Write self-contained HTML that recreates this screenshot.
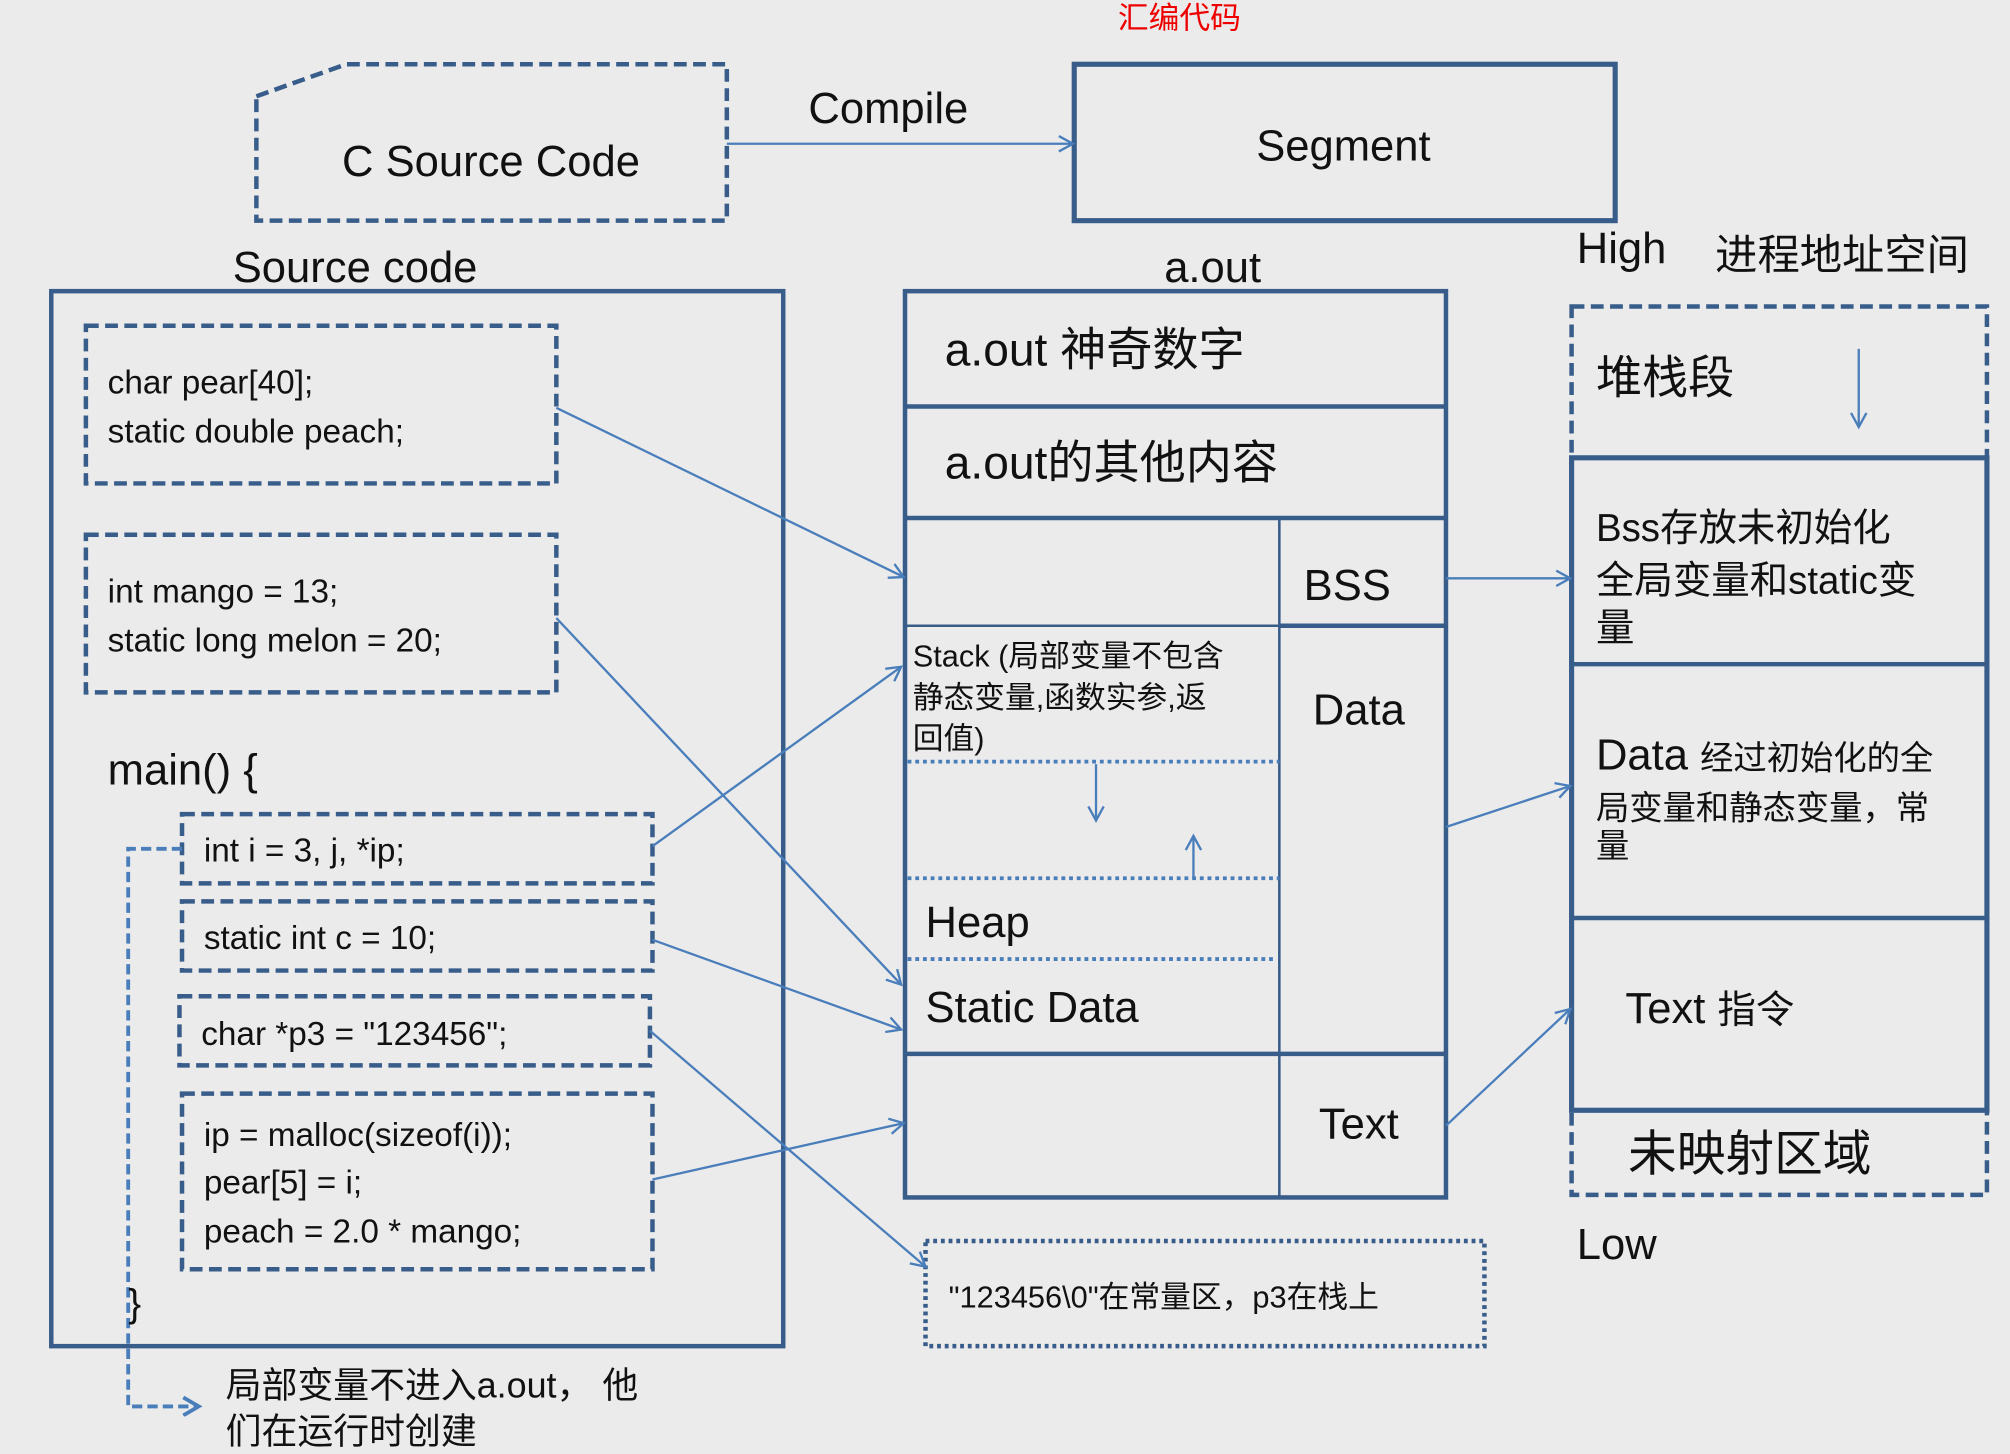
<!DOCTYPE html>
<html><head><meta charset="utf-8"><style>
html,body{margin:0;padding:0;background:#ebebeb;}
svg{display:block;}
text{font-family:"Liberation Sans","Noto Sans CJK SC",sans-serif;fill:#111;}
</style></head><body>
<svg width="2010" height="1454" viewBox="0 0 1568 1134" xmlns="http://www.w3.org/2000/svg">
<defs>
<marker id="a" markerWidth="14" markerHeight="14" refX="12" refY="7" orient="auto" markerUnits="userSpaceOnUse">
<polyline points="1,1 12,7 1,13" fill="none" stroke="#4a7ebb" stroke-width="1.8"/>
</marker>
<marker id="b" markerWidth="16" markerHeight="16" refX="13" refY="8" orient="auto" markerUnits="userSpaceOnUse">
<polyline points="1,1 13,8 1,15" fill="none" stroke="#4a7ebb" stroke-width="3"/>
</marker>
</defs>
<rect width="1568" height="1134" fill="#ebebeb"/>
<g stroke="#385d8a" fill="none">
<polygon points="200,75 270,50 567,50 567,172 200,172" stroke-width="3.5" stroke-dasharray="10,5"/>
<rect x="838" y="50" width="422" height="122" stroke-width="4"/>
<rect x="40" y="227" width="571" height="823" stroke-width="3.5"/>
<g stroke-width="3.5" stroke-dasharray="10,5">
<rect x="67" y="254" width="367" height="123"/>
<rect x="67" y="417" width="367" height="123"/>
<rect x="142" y="635" width="367" height="54"/>
<rect x="142" y="703" width="367" height="54"/>
<rect x="140" y="777" width="367" height="54"/>
<rect x="142" y="853" width="367" height="137"/>
</g>
<rect x="706" y="227" width="422" height="707" stroke-width="3.5"/>
<line x1="706" y1="317" x2="1128" y2="317" stroke-width="3.5"/>
<line x1="706" y1="404" x2="1128" y2="404" stroke-width="3.5"/>
<line x1="706" y1="488" x2="1128" y2="488" stroke-width="2"/>
<line x1="998" y1="488" x2="1128" y2="488" stroke-width="3.5"/>
<line x1="706" y1="822" x2="1128" y2="822" stroke-width="3.5"/>
<line x1="998" y1="404" x2="998" y2="934" stroke-width="2"/>
<g stroke="#4a7ebb" stroke-width="3" stroke-dasharray="3,3">
<line x1="708" y1="594" x2="998" y2="594"/>
<line x1="708" y1="685" x2="998" y2="685"/>
<line x1="708" y1="748" x2="993" y2="748"/>
</g>
<rect x="1226" y="239" width="324" height="693" stroke-width="3.5" stroke-dasharray="10,5"/>
<rect x="1226" y="357" width="324" height="509" stroke-width="4"/>
<line x1="1226" y1="518" x2="1550" y2="518" stroke-width="3.5"/>
<line x1="1226" y1="716" x2="1550" y2="716" stroke-width="3.5"/>
<rect x="722" y="968" width="436" height="82" stroke-width="3.5" stroke-dasharray="3,3"/>
</g>
<g stroke="#4a7ebb" stroke-width="1.8" fill="none" marker-end="url(#a)">
<line x1="567" y1="112" x2="837" y2="112"/>
<line x1="434" y1="318" x2="705" y2="450"/>
<line x1="434" y1="482" x2="703" y2="768"/>
<line x1="509" y1="660" x2="703" y2="520"/>
<line x1="509" y1="733" x2="703" y2="803"/>
<line x1="509" y1="920" x2="705" y2="876"/>
<line x1="507" y1="804" x2="722" y2="988"/>
<line x1="1128" y1="451" x2="1225" y2="451"/>
<line x1="1128" y1="645" x2="1225" y2="613"/>
<line x1="1128" y1="878" x2="1225" y2="787"/>
<line x1="855" y1="596" x2="855" y2="640"/>
<line x1="931" y1="685" x2="931" y2="652"/>
<line x1="1450" y1="272" x2="1450" y2="333"/>
</g>
<polyline points="142,662 100,662 100,1097 155,1097" fill="none" stroke="#4a7ebb" stroke-width="3" stroke-dasharray="8,4" marker-end="url(#b)"/>
<text x="920" y="22" font-size="24" fill="#e00" style="fill:#e00" text-anchor="middle">汇编代码</text>
<text x="383" y="137" font-size="34" text-anchor="middle">C Source Code</text>
<text x="693" y="96" font-size="34" text-anchor="middle">Compile</text>
<text x="1048" y="125" font-size="34" text-anchor="middle">Segment</text>
<text x="277" y="220" font-size="34" text-anchor="middle">Source code</text>
<g font-size="26">
<text x="84" y="307">char pear[40];</text>
<text x="84" y="345">static double peach;</text>
<text x="84" y="470">int mango = 13;</text>
<text x="84" y="508">static long melon = 20;</text>
<text x="159" y="672">int i = 3, j, *ip;</text>
<text x="159" y="740">static int c = 10;</text>
<text x="157" y="815">char *p3 = "123456";</text>
<text x="159" y="894">ip = malloc(sizeof(i));</text>
<text x="159" y="931">pear[5] = i;</text>
<text x="159" y="969">peach = 2.0 * mango;</text>
</g>
<text x="84" y="612" font-size="34">main() {</text>
<text x="100" y="1027" font-size="30">}</text>
<text x="176" y="1090" font-size="28">局部变量不进入a.out， 他</text>
<text x="176" y="1126" font-size="28">们在运行时创建</text>
<text x="946" y="220" font-size="34" text-anchor="middle">a.out</text>
<text x="737" y="285" font-size="36">a.out 神奇数字</text>
<text x="737" y="373" font-size="36">a.out的其他内容</text>
<text x="1051" y="468" font-size="34" text-anchor="middle">BSS</text>
<text x="1060" y="565" font-size="34" text-anchor="middle">Data</text>
<text x="1060" y="888" font-size="34" text-anchor="middle">Text</text>
<g font-size="24">
<text x="712" y="520">Stack (局部变量不包含</text>
<text x="712" y="552">静态变量,函数实参,返</text>
<text x="712" y="584">回值)</text>
</g>
<text x="722" y="731" font-size="34">Heap</text>
<text x="722" y="797" font-size="34">Static Data</text>
<text x="1230" y="205" font-size="34">High</text>
<text x="1338" y="210" font-size="33">进程地址空间</text>
<text x="1245" y="307" font-size="36">堆栈段</text>
<text x="1245" y="422" font-size="30">Bss存放未初始化</text>
<text x="1245" y="463" font-size="30">全局变量和static变</text>
<text x="1245" y="500" font-size="30">量</text>
<text x="1245" y="600" font-size="34">Data <tspan font-size="26">经过初始化的全</tspan></text>
<text x="1245" y="639" font-size="26">局变量和静态变量，常</text>
<text x="1245" y="669" font-size="26">量</text>
<text x="1268" y="798" font-size="34">Text <tspan font-size="30">指令</tspan></text>
<text x="1270" y="913" font-size="38">未映射区域</text>
<text x="1230" y="982" font-size="34">Low</text>
<text x="740" y="1020" font-size="24">"123456\0"在常量区，p3在栈上</text>
</svg>
</body></html>
